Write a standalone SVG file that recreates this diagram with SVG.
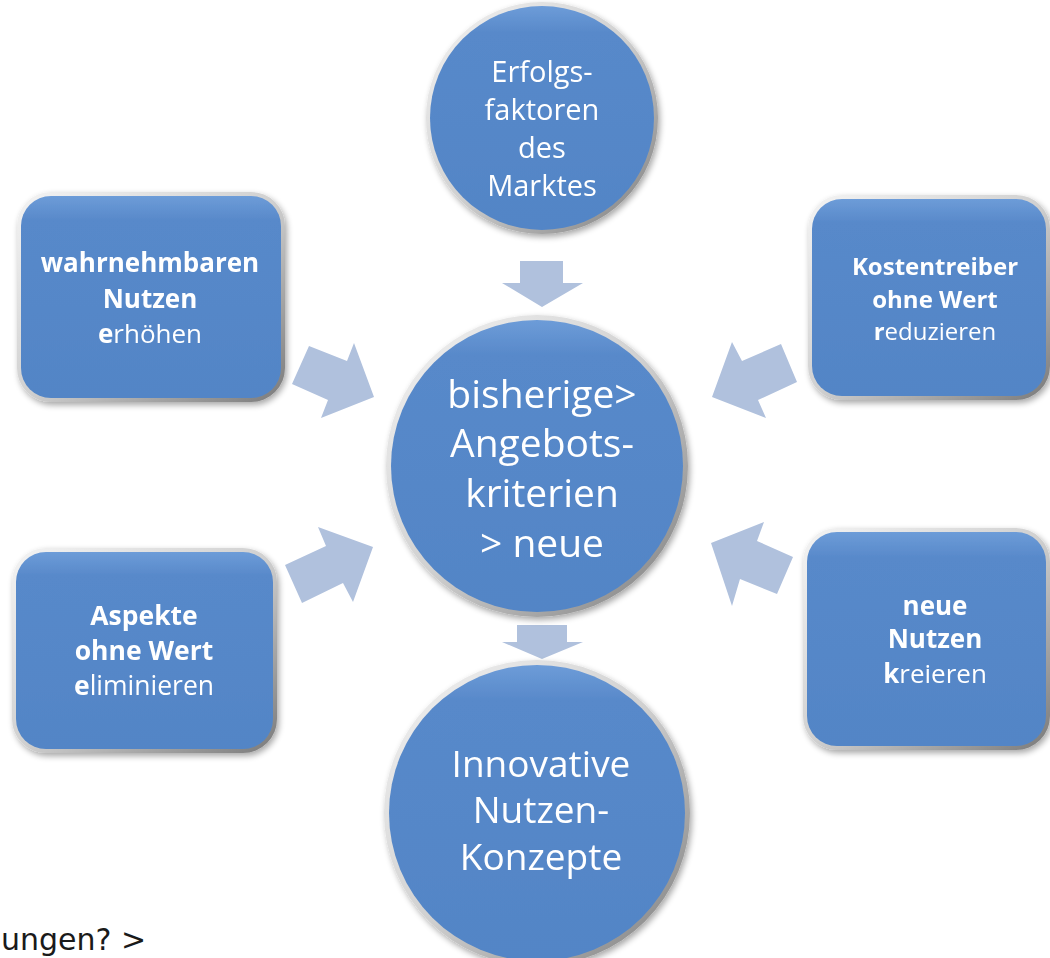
<svg xmlns="http://www.w3.org/2000/svg" width="1050" height="958" viewBox="0 0 1050 958">
<defs>
<linearGradient id="rim" x1="0" y1="0" x2="1" y2="1">
<stop offset="0" stop-color="#f4f4f4"/>
<stop offset="0.5" stop-color="#d0d0d0"/>
<stop offset="1" stop-color="#7a7a7a"/>
</linearGradient>
<linearGradient id="fill" x1="0" y1="0" x2="0" y2="1">
<stop offset="0" stop-color="#6d9cd8"/>
<stop offset="0.12" stop-color="#5889ca"/>
<stop offset="1" stop-color="#5285c6"/>
</linearGradient>
<filter id="sh" x="-10%" y="-10%" width="125%" height="125%">
<feGaussianBlur in="SourceAlpha" stdDeviation="3"/>
<feOffset dx="2" dy="3"/>
<feComponentTransfer><feFuncA type="linear" slope="0.35"/></feComponentTransfer>
<feMerge><feMergeNode/><feMergeNode in="SourceGraphic"/></feMerge>
</filter>
</defs>
<style>
.rim{fill:url(#rim);}
.body{fill:url(#fill);}
.t{font-family:"Open Sans","Liberation Sans",sans-serif;fill:#ffffff;text-anchor:middle;}
.b{font-weight:bold;}
.arr{fill:#b0c1dd;}
.note{font-family:"DejaVu Sans","Liberation Sans",sans-serif;fill:#1a1a1a;font-size:30px;}
</style>
<g id="connectors">
<polygon class="arr" points="520,261 563,261 563,283 583,283 542,307 502,283 520,283"/>
<polygon class="arr" points="517,625 567,625 567,642 583,642 542,659 502,642 517,642"/>
<polygon class="arr" points="309,346 347,361 354,343 374,397 321,418 328,400 292,384"/>
<polygon class="arr" points="781,344 742,361 732,342 712,397 766,418 758,400 797,382"/>
<polygon class="arr" points="302,603 285,565 326,546 318,527 373,547 353,602 343,583"/>
<polygon class="arr" points="711,543 764,522 757,541 793,557 777,594 740,579 732,606"/>
</g>
<g id="node-top" filter="url(#sh)">
<circle class="rim" cx="542" cy="118" r="116"/>
<circle class="body" cx="542" cy="118" r="112"/>
<text class="t" font-size="29" x="542" y="82">Erfolgs-</text>
<text class="t" font-size="29" x="542" y="120">faktoren</text>
<text class="t" font-size="29" x="542" y="158">des</text>
<text class="t" font-size="29" x="542" y="196">Marktes</text>
</g>
<g id="node-center" filter="url(#sh)">
<circle class="rim" cx="537" cy="466" r="151"/>
<circle class="body" cx="537" cy="466" r="146"/>
<text class="t" font-size="39" x="542" y="408">bisherige&gt;</text>
<text class="t" font-size="39" x="542" y="457">Angebots-</text>
<text class="t" font-size="39" x="542" y="507">kriterien</text>
<text class="t" font-size="39" x="542" y="557">&gt; neue</text>
</g>
<g id="node-bottom" filter="url(#sh)">
<circle class="rim" cx="537" cy="813" r="153"/>
<circle class="body" cx="537" cy="813" r="148"/>
<text class="t" font-size="37" x="541" y="777">Innovative</text>
<text class="t" font-size="37" x="541" y="823">Nutzen-</text>
<text class="t" font-size="37" x="541" y="870">Konzepte</text>
</g>
<g id="node-tl" filter="url(#sh)">
<rect class="rim" x="17" y="192" width="268" height="210" rx="34"/>
<rect class="body" x="21" y="196" width="260" height="202" rx="30"/>
<text class="t b" font-size="26" x="150" y="272">wahrnehmbaren</text>
<text class="t b" font-size="26" x="150" y="308">Nutzen</text>
<text class="t" font-size="26" x="150" y="343"><tspan class="b">e</tspan>rhöhen</text>
</g>
<g id="node-tr" filter="url(#sh)">
<rect class="rim" x="808" y="195" width="242" height="205" rx="34"/>
<rect class="body" x="812" y="199" width="234" height="197" rx="30"/>
<text class="t b" font-size="24" x="935" y="275">Kostentreiber</text>
<text class="t b" font-size="24" x="935" y="308">ohne Wert</text>
<text class="t" font-size="24" x="935" y="340"><tspan class="b">r</tspan>eduzieren</text>
</g>
<g id="node-bl" filter="url(#sh)">
<rect class="rim" x="12" y="548" width="265" height="205" rx="34"/>
<rect class="body" x="16" y="552" width="257" height="197" rx="30"/>
<text class="t b" font-size="26.5" x="144" y="625">Aspekte</text>
<text class="t b" font-size="26.5" x="144" y="660">ohne Wert</text>
<text class="t" font-size="26.5" x="144" y="695"><tspan class="b">e</tspan>liminieren</text>
</g>
<g id="node-br" filter="url(#sh)">
<rect class="rim" x="803" y="528" width="247" height="222" rx="34"/>
<rect class="body" x="807" y="532" width="239" height="214" rx="30"/>
<text class="t b" font-size="26" x="935" y="615">neue</text>
<text class="t b" font-size="26" x="935" y="648">Nutzen</text>
<text class="t" font-size="26" x="935" y="683"><tspan class="b">k</tspan>reieren</text>
</g>
<text class="note" x="1" y="950">ungen? &gt;</text>
</svg>
